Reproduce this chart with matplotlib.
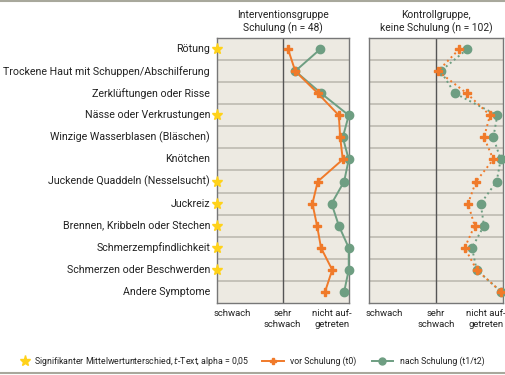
import numpy as np
import matplotlib.pyplot as plt
from matplotlib.lines import Line2D

# Symptome (von oben nach unten)
symptome = [
    "Rötung",
    "Trockene Haut mit Schuppen/Abschilferung",
    "Zerklüftungen oder Risse",
    "Nässe oder Verkrustungen",
    "Winzige Wasserblasen (Bläschen)",
    "Knötchen",
    "Juckende Quaddeln (Nesselsucht)",
    "Juckreiz",
    "Brennen, Kribbeln oder Stechen",
    "Schmerzempfindlichkeit",
    "Schmerzen oder Beschwerden",
    "Andere Symptome",
]
signifikant = [True, False, False, True, False, False, True, True, True, True, True, False]

# Skala: 1 = schwach, 2 = sehr schwach, 3 = nicht aufgetreten
interv_vor = [2.08, 2.19, 2.53, 2.85, 2.87, 2.91, 2.53, 2.45, 2.52, 2.58, 2.75, 2.64]
interv_nach = [2.57, 2.19, 2.58, 3.00, 2.91, 3.00, 2.93, 2.74, 2.85, 3.00, 3.00, 2.93]
kontr_vor = [2.35, 2.03, 2.46, 2.81, 2.72, 2.86, 2.60, 2.48, 2.58, 2.43, 2.61, 2.98]
kontr_nach = [2.47, 2.07, 2.28, 2.92, 2.86, 2.97, 2.91, 2.67, 2.72, 2.54, 2.61, 2.98]

skala_labels = ["schwach", "sehr\nschwach", "nicht auf-\ngetreten"]
skala_pos = [1.23, 2.0, 2.75]

titel = ["Interventionsgruppe\nSchulung (n = 48)", "Kontrollgruppe,\nkeine Schulung (n = 102)"]

ORANGE = "#F07A2A"
GREEN = "#6E9E82"
BG = "#EDEAE2"
GRID = "#BDBAB1"
STAR = "#FFD21A"
TXT = "#222222"

plt.rcParams["font.family"] = ["Roboto", "DejaVu Sans"]

fig = plt.figure(figsize=(5.06, 3.75), dpi=100)
ax1 = fig.add_axes([0.4283, 0.192, 0.2609, 0.7067])
ax2 = fig.add_axes([0.7298, 0.192, 0.2636, 0.7067])

y = np.arange(len(symptome))

for ax, vor, nach, ls, t in [
    (ax1, interv_vor, interv_nach, "-", titel[0]),
    (ax2, kontr_vor, kontr_nach, ":", titel[1]),
]:
    ax.set_facecolor(BG)
    ax.set_xlim(1, 3)
    ax.set_ylim(len(symptome) - 0.5, -0.5)
    ax.set_yticks(np.arange(0.5, len(symptome) - 0.5), minor=True)
    ax.grid(which="minor", axis="y", color=GRID, lw=1.2)
    ax.set_xticks([])
    ax.set_yticks([])
    ax.tick_params(which="minor", length=0)
    ax.axvline(2, color="#555555", lw=1, zorder=2)
    for s in ax.spines.values():
        s.set_color("#777777")
        s.set_linewidth(1)
    ax.plot(nach, y, ls=ls, color=GREEN, lw=1.4, marker="o", ms=6, zorder=3, clip_on=False)
    ax.plot(vor, y, ls=ls, color=ORANGE, lw=1.4, marker="P", ms=5.5, zorder=4, clip_on=False)
    for p, lab in zip(skala_pos, skala_labels):
        ax.text(p, len(symptome) - 0.5 + 0.25, lab, ha="center", va="top", fontsize=6.8,
                color=TXT, linespacing=1.35)
    ax.set_title(t, fontsize=7.4, color=TXT, pad=5, linespacing=1.25)

# Symptom-Beschriftungen links
for i, name in enumerate(symptome):
    ax1.text(0.9, i, name, ha="right", va="center", fontsize=7.65, color=TXT)
    if signifikant[i]:
        ax1.plot(1, i, marker="*", color=STAR, ms=8, clip_on=False, zorder=5)

# Legende unten
leg_y = 1 - 361 / 375
fig.add_artist(Line2D([25 / 506], [leg_y], marker="*", color=STAR, ms=8, ls="none"))
fig.text(34 / 506, leg_y, "Signifikanter Mittelwertunterschied, $\\it{t}$-Text, alpha = 0,05",
         fontsize=6.3, va="center", color=TXT)
fig.add_artist(Line2D([262 / 506, 284 / 506], [leg_y, leg_y], color=ORANGE, lw=1.4))
fig.add_artist(Line2D([273 / 506], [leg_y], color=ORANGE, marker="P", ms=5, ls="none"))
fig.text(290 / 506, leg_y, "vor Schulung (t0)", fontsize=6.3, va="center", color=TXT)
fig.add_artist(Line2D([372 / 506, 393 / 506], [leg_y, leg_y], color=GREEN, lw=1.4))
fig.add_artist(Line2D([382.5 / 506], [leg_y], color=GREEN, marker="o", ms=5, ls="none"))
fig.text(400 / 506, leg_y, "nach Schulung (t1/t2)", fontsize=6.3, va="center", color=TXT)

# Rahmenlinien oben und unten
fig.add_artist(Line2D([0, 1], [1 - 1 / 375, 1 - 1 / 375], color="#A8A89C", lw=1.5))
fig.add_artist(Line2D([0, 1], [1 - 373 / 375, 1 - 373 / 375], color="#A8A89C", lw=1.5))

fig.savefig("out.png", dpi=100)
